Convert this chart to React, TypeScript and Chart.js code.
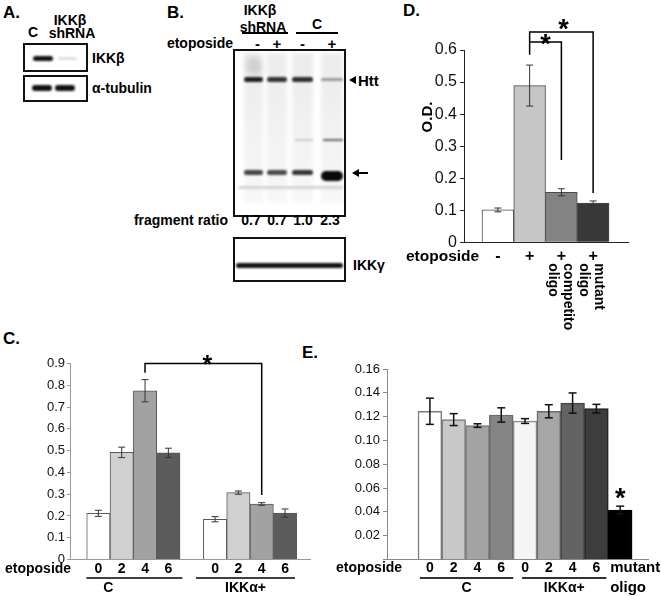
import React, { useEffect, useRef } from 'react';
import { Chart, registerables } from 'chart.js';
Chart.register(...registerables);

const FONT = "'Liberation Sans', Arial, Helvetica, sans-serif";

// ---------- Panel D (ELISA O.D.) ----------
const D_TREATMENT = ['-', '+', '+', '+'];
const D_NOTES: string[][] = [[], [], ['competitor', 'oligo'], ['mutant', 'oligo']];
const D_VALUES = [0.101, 0.489, 0.156, 0.122];
const D_ERRORS = [0.006, 0.064, 0.011, 0.007];
const D_COLORS = ['#ffffff', '#c6c6c6', '#838383', '#383838'];
const D_Y_MAX = 0.6;
const D_Y_STEP = 0.1;

// ---------- Panel C ----------
const C_GROUPS = ['C', 'IKKα+'];
const C_TIMES = ['0', '2', '4', '6'];
const C_CTRL = [0.212, 0.492, 0.775, 0.49];
const C_CTRL_ERR = [0.014, 0.024, 0.051, 0.021];
const C_IKKA = [0.185, 0.307, 0.255, 0.213];
const C_IKKA_ERR = [0.012, 0.0075, 0.006, 0.019];
const C_COLORS = ['#ffffff', '#d0d0d0', '#a2a2a2', '#5c5c5c'];
const C_Y_MAX = 0.9;
const C_Y_STEP = 0.1;

// ---------- Panel E ----------
const E_GROUPS = ['C', 'IKKα+'];
const E_TIMES = ['0', '2', '4', '6'];
const E_CTRL = [0.1245, 0.1175, 0.1125, 0.1214];
const E_CTRL_ERR = [0.011, 0.005, 0.0015, 0.006];
const E_IKKA = [0.1163, 0.1245, 0.1314, 0.1267];
const E_IKKA_ERR = [0.002, 0.0055, 0.0085, 0.0036];
const E_MUTANT_LABEL = ['mutant', 'oligo'];
const E_MUTANT = 0.0415;
const E_MUTANT_ERR = 0.0033;
const E_COLORS = ['#ffffff', '#c8c8c8', '#a3a3a3', '#858585', '#f5f5f5', '#a6a6a6', '#636363', '#3d3d3d', '#000000'];
const E_Y_MAX = 0.16;
const E_Y_STEP = 0.02;

// ---------- Panel B ----------
const B_SIGNS = ['-', '+', '-', '+'];
const B_RATIOS = ['0.7', '0.7', '1.0', '2.3'];

type Opt = { size?: number; bold?: boolean; align?: CanvasTextAlign; rot?: number; color?: string };
function drawText(ctx: CanvasRenderingContext2D, s: string, x: number, y: number, o: Opt = {}) {
  ctx.save();
  ctx.font = `${o.bold === false ? '' : 'bold '}${o.size ?? 14}px ${FONT}`;
  ctx.fillStyle = o.color ?? '#000';
  ctx.textAlign = o.align ?? 'center';
  ctx.textBaseline = 'middle';
  ctx.translate(x, y);
  if (o.rot) ctx.rotate(o.rot);
  ctx.fillText(s, 0, 0);
  ctx.restore();
}
function drawStar(ctx: CanvasRenderingContext2D, cx: number, cy: number, size: number) {
  ctx.save();
  ctx.font = `bold ${size}px ${FONT}`;
  ctx.fillStyle = '#000';
  ctx.textAlign = 'center';
  ctx.textBaseline = 'alphabetic';
  ctx.fillText('*', cx, cy + size * 0.57);
  ctx.restore();
}
function line(ctx: CanvasRenderingContext2D, pts: number[][], w: number, color = '#000') {
  ctx.save();
  ctx.strokeStyle = color;
  ctx.lineWidth = w;
  ctx.beginPath();
  pts.forEach((p, i) => (i ? ctx.lineTo(p[0], p[1]) : ctx.moveTo(p[0], p[1])));
  ctx.stroke();
  ctx.restore();
}

type Spec = {
  box: { left: number; top: number; width: number; height: number };
  area: { left: number; right: number; top: number; bottom: number };
  xMin: number; xMax: number;
  xs: number[]; ys: number[]; errs: number[]; colors: string[];
  borderColor: string | string[]; borderWidth: number;
  yMax: number; yStep: number; fmt: (v: number) => string;
  tickSize: number; tickLen: number; tickPad: number; axisColor: string;
  errColor: string; errWidth: number; cap: number;
  draw: (ctx: CanvasRenderingContext2D, c: any, bars: any[], y: any) => void;
};

function BarPanel({ spec }: { spec: Spec }) {
  const ref = useRef<HTMLCanvasElement>(null);
  useEffect(() => {
    const s = spec;
    const yW = 50;
    const chart = new Chart(ref.current!, {
      type: 'bar',
      data: {
        datasets: [{
          data: s.xs.map((x, i) => ({ x, y: s.ys[i] })),
          backgroundColor: s.colors,
          borderColor: s.borderColor as any,
          borderWidth: s.borderWidth,
          categoryPercentage: 1,
          barPercentage: 1,
        } as any],
      },
      options: {
        animation: false,
        responsive: false,
        maintainAspectRatio: false,
        devicePixelRatio: 1,
        layout: {
          autoPadding: false,
          padding: {
            left: s.area.left - s.box.left - yW,
            right: s.box.left + s.box.width - s.area.right,
            top: s.area.top - s.box.top,
            bottom: s.box.top + s.box.height - s.area.bottom,
          },
        },
        plugins: { legend: { display: false }, tooltip: { enabled: false }, title: { display: false } },
        scales: {
          x: {
            type: 'linear', min: s.xMin, max: s.xMax, offset: false,
            grid: { display: false, drawTicks: false },
            ticks: { display: false },
            border: { display: true, color: s.axisColor, width: 1 },
            afterBuildTicks: (sc: any) => { sc.ticks = s.xs.map((v) => ({ value: v })); },
            afterFit: (sc: any) => { sc.height = 0; },
          },
          y: {
            min: 0, max: s.yMax,
            ticks: {
              stepSize: s.yStep,
              callback: (v: any) => s.fmt(Number(v)),
              color: '#111',
              font: { family: FONT, size: s.tickSize },
              padding: s.tickPad,
            },
            grid: { drawOnChartArea: false, drawTicks: true, tickLength: s.tickLen, color: s.axisColor },
            border: { display: true, color: s.axisColor, width: 1 },
            afterFit: (sc: any) => { sc.width = yW; },
          },
        } as any,
      },
      plugins: [{
        id: 'extras',
        afterDraw: (c: any) => {
          const ctx = c.ctx as CanvasRenderingContext2D;
          const meta = c.getDatasetMeta(0);
          const ys = c.scales.y;
          meta.data.forEach((el: any, i: number) => {
            const e = s.errs[i];
            const v = s.ys[i];
            const t = ys.getPixelForValue(v + e);
            const b = ys.getPixelForValue(v - e);
            line(ctx, [[el.x, t], [el.x, b]], s.errWidth, s.errColor);
            line(ctx, [[el.x - s.cap, t], [el.x + s.cap, t]], s.errWidth, s.errColor);
            line(ctx, [[el.x - s.cap, b], [el.x + s.cap, b]], s.errWidth, s.errColor);
          });
          s.draw(ctx, c, meta.data, ys);
        },
      }],
    } as any);
    return () => chart.destroy();
  }, []);
  const b = spec.box;
  return (
    <canvas
      ref={ref}
      width={b.width}
      height={b.height}
      style={{ position: 'absolute', left: b.left, top: b.top, width: b.width, height: b.height }}
    />
  );
}

// ---------- specs ----------
const specD: Spec = {
  box: { left: 400, top: 0, width: 261, height: 330 },
  area: { left: 464, right: 628, top: 50, bottom: 242.3 },
  xMin: -0.067, xMax: 5.098,
  xs: D_VALUES.map((_, i) => i + 1),
  ys: D_VALUES, errs: D_ERRORS, colors: D_COLORS,
  borderColor: '#4a4a4a', borderWidth: 1,
  yMax: D_Y_MAX, yStep: D_Y_STEP,
  fmt: (v) => (v === 0 ? '0' : v.toFixed(1)),
  tickSize: 16, tickLen: 4, tickPad: 3, axisColor: '#222',
  errColor: '#333', errWidth: 1, cap: 3.5,
  draw: (ctx, c, bars, y) => {
    const a = c.chartArea;
    const rowY = a.bottom + 14;
    drawText(ctx, 'etoposide', a.left - 58, rowY, { size: 15.5, align: 'left' });
    bars.forEach((b: any, i: number) => {
      drawText(ctx, D_TREATMENT[i], b.x, rowY, { size: 16 });
      D_NOTES[i].forEach((n, j) =>
        drawText(ctx, n, b.x + 6 - j * 15, a.bottom + 21, { size: 14, align: 'left', rot: Math.PI / 2 }));
    });
    drawText(ctx, 'O.D.', a.left - 36, a.top + 67, { size: 15, rot: -Math.PI / 2 });
    const x1 = bars[1].x, x2 = bars[2].x, x3 = bars[3].x;
    line(ctx, [[x1, y.getPixelForValue(0.585)], [x1, y.getPixelForValue(0.656)], [x3, y.getPixelForValue(0.656)], [x3, y.getPixelForValue(0.154)]], 1.5);
    line(ctx, [[x1, y.getPixelForValue(0.625)], [x2, y.getPixelForValue(0.625)], [x2, y.getPixelForValue(0.257)]], 1.5);
    drawStar(ctx, (x1 + x3) / 2 + 2, y.getPixelForValue(0.656) - 9, 27);
    drawStar(ctx, (x1 + x2) / 2, y.getPixelForValue(0.625) - 4, 27);
  },
};

const C_ALL = [...C_CTRL, ...C_IKKA];
const specC: Spec = {
  box: { left: 0, top: 330, width: 330, height: 266 },
  area: { left: 70, right: 310, top: 363.5, bottom: 559.5 },
  xMin: -0.216, xMax: 10.07,
  xs: C_ALL.map((_, i) => Math.floor(i / C_TIMES.length) * (C_TIMES.length + 1) + (i % C_TIMES.length) + 1),
  ys: C_ALL, errs: [...C_CTRL_ERR, ...C_IKKA_ERR],
  colors: [...C_COLORS, ...C_COLORS],
  borderColor: '#5a5a5a', borderWidth: 1,
  yMax: C_Y_MAX, yStep: C_Y_STEP,
  fmt: (v) => (v === 0 ? '0' : v.toFixed(1)),
  tickSize: 13, tickLen: 3, tickPad: 2, axisColor: '#999',
  errColor: '#333', errWidth: 1, cap: 3.5,
  draw: (ctx, c, bars, y) => {
    const a = c.chartArea;
    const rowY = a.bottom + 9.5;
    drawText(ctx, 'etoposide', a.left - 65, rowY, { size: 14, align: 'left' });
    bars.forEach((b: any, i: number) => drawText(ctx, C_TIMES[i % C_TIMES.length], b.x, rowY, { size: 14 }));
    C_GROUPS.forEach((g, gi) => {
      const first = bars[gi * C_TIMES.length];
      const last = bars[gi * C_TIMES.length + C_TIMES.length - 1];
      const l = first.x - (gi ? 19 : 12);
      const r = last.x + (gi ? 10 : 14);
      line(ctx, [[l, a.bottom + 18.5], [r, a.bottom + 18.5]], 1.5);
      drawText(ctx, g, gi ? (l + r) / 2 : l + 22, a.bottom + 28.5, { size: 14 });
    });
    const xa = bars[2].x, xb = bars[6].x;
    const top = y.getPixelForValue(0.9);
    line(ctx, [[xa, y.getPixelForValue(0.857)], [xa, top], [xb, top], [xb, y.getPixelForValue(0.296)]], 1.5);
    drawStar(ctx, (xa + xb) / 2 + 4, top - 5, 25);
  },
};

const E_ALL = [...E_CTRL, ...E_IKKA, E_MUTANT];
const specE: Spec = {
  box: { left: 330, top: 340, width: 331, height: 256 },
  area: { left: 387, right: 648, top: 369, bottom: 559.5 },
  xMin: -0.804, xMax: 10.17,
  xs: E_ALL.map((_, i) => i + 1),
  ys: E_ALL, errs: [...E_CTRL_ERR, ...E_IKKA_ERR, E_MUTANT_ERR],
  colors: E_COLORS,
  borderColor: ['#7a7a7a', '#7a7a7a', '#7a7a7a', '#6a6a6a', '#8a8a8a', '#6a6a6a', '#444', '#222', '#000'],
  borderWidth: 1.5,
  yMax: E_Y_MAX, yStep: E_Y_STEP,
  fmt: (v) => (v === 0 ? '' : v.toFixed(2)),
  tickSize: 13, tickLen: 4, tickPad: 3, axisColor: '#888',
  errColor: '#111', errWidth: 1.5, cap: 4,
  draw: (ctx, c, bars) => {
    const a = c.chartArea;
    const rowY = a.bottom + 8.5;
    drawText(ctx, 'etoposide', a.left - 51, rowY, { size: 14, align: 'left' });
    const n = E_TIMES.length;
    bars.forEach((b: any, i: number) => {
      if (i < n * E_GROUPS.length) drawText(ctx, E_TIMES[i % n], b.x, rowY, { size: 14 });
    });
    E_GROUPS.forEach((g, gi) => {
      const l = bars[gi * n].x - (gi ? 3 : 10);
      const r = bars[gi * n + n - 1].x + (gi ? 10 : 12);
      line(ctx, [[l, a.bottom + 18.5], [r, a.bottom + 18.5]], 2, '#333');
      drawText(ctx, g, (l + r) / 2, a.bottom + 28.5, { size: 14 });
    });
    const m = bars[bars.length - 1];
    E_MUTANT_LABEL.forEach((t, j) => drawText(ctx, t, m.x - 10, rowY + j * 20, { size: 15, align: 'left' }));
    drawStar(ctx, m.x, 492 - 340, 27);
  },
};

// ---------- HTML helpers for blot panels ----------
function T({ x, y, children, size = 14, bold = true, align = 'center' }:
  { x: number; y: number; children: React.ReactNode; size?: number; bold?: boolean; align?: 'left' | 'center' | 'right' }) {
  const tx = align === 'center' ? '-50%' : align === 'right' ? '-100%' : '0';
  return (
    <div style={{
      position: 'absolute', left: x, top: y, transform: `translate(${tx}, -50%)`, whiteSpace: 'nowrap',
      fontFamily: FONT, fontSize: size, fontWeight: bold ? 700 : 400, lineHeight: 1, color: '#000',
    }}>{children}</div>
  );
}
function Box({ x, y, w, h }: { x: number; y: number; w: number; h: number }) {
  return <div style={{ position: 'absolute', left: x, top: y, width: w, height: h, border: '2px solid #111', boxSizing: 'border-box' }} />;
}
function Band({ x1, x2, y, h, color, blur = 0.8 }: { x1: number; x2: number; y: number; h: number; color: string; blur?: number }) {
  return <div style={{
    position: 'absolute', left: x1, top: y - h / 2, width: x2 - x1, height: h, background: color,
    borderRadius: h / 2, filter: `blur(${blur}px)`,
  }} />;
}
function HLine({ x1, x2, y, w = 1.5 }: { x1: number; x2: number; y: number; w?: number }) {
  return <div style={{ position: 'absolute', left: x1, top: y - w / 2, width: x2 - x1, height: w, background: '#000' }} />;
}

const LANES = [[244, 263], [267, 287], [292, 313], [321, 343]];
const HTT_SHADES = ['#1e1e1e', '#333', '#2e2e2e', '#9a9a9a'];
const FRAG_SHADES = ['#444', '#4a4a4a', '#333', '#0a0a0a'];

export default function App() {
  return (
    <div style={{ position: 'fixed', left: 0, top: 0, width: 661, height: 596, background: '#fff', overflow: 'hidden' }}>
      {/* Panel A */}
      <T x={3} y={12} size={17} align="left">A.</T>
      <T x={33} y={32}>C</T>
      <T x={70} y={20}>IKKβ</T>
      <T x={72} y={33}>shRNA</T>
      <Box x={23} y={43} w={65} h={29} />
      <Box x={23} y={75} w={65} h={27} />
      <Band x1={33} x2={53} y={58} h={5} color="#111" />
      <Band x1={58} x2={77} y={58} h={3} color="#ddd" />
      <Band x1={32} x2={52} y={88} h={6} color="#111" />
      <Band x1={55} x2={75} y={88} h={6} color="#111" />
      <T x={92} y={58} align="left">IKKβ</T>
      <T x={92} y={88} align="left">α-tubulin</T>

      {/* Panel B */}
      <T x={167} y={12} size={17} align="left">B.</T>
      <T x={260} y={10}>IKKβ</T>
      <T x={263} y={27}>shRNA</T>
      <HLine x1={242} x2={288} y={33} />
      <T x={317} y={24}>C</T>
      <HLine x1={296} x2={338} y={33} />
      <T x={233} y={43} align="right">etoposide</T>
      {B_SIGNS.map((s, i) => <T key={'s' + i} x={(LANES[i][0] + LANES[i][1]) / 2 + (i === 0 ? 4 : 0)} y={43} size={15}>{s}</T>)}
      <div style={{ position: 'absolute', left: 233, top: 49, width: 113, height: 168, overflow: 'hidden' }}>
        {LANES.map((l, i) => (
          <div key={'h' + i} style={{
            position: 'absolute', left: l[0] - 233, top: 4, width: l[1] - l[0], height: 150,
            background: 'linear-gradient(rgba(0,0,0,0.08), rgba(0,0,0,0.03))', filter: 'blur(2px)',
          }} />
        ))}
      </div>
      <Band x1={246} x2={262} y={66} h={18} color="rgba(0,0,0,0.12)" blur={3} />
      {LANES.map((l, i) => <Band key={'t' + i} x1={l[0]} x2={l[1]} y={79} h={i === 3 ? 3 : 5} color={HTT_SHADES[i]} blur={1} />)}
      <Band x1={295} x2={313} y={140} h={2} color="#ccc" />
      <Band x1={323} x2={343} y={140} h={2} color="#666" />
      {LANES.map((l, i) => <Band key={'f' + i} x1={l[0]} x2={l[1]} y={i === 3 ? 176 : 172} h={i === 3 ? 10 : 5} color={FRAG_SHADES[i]} blur={i === 3 ? 1.2 : 1} />)}
      <Band x1={238} x2={343} y={187} h={3} color="#d4d4d4" />
      <Box x={233} y={49} w={113} h={168} />
      <div style={{
        position: 'absolute', left: 349, top: 76, width: 0, height: 0,
        borderTop: '4px solid transparent', borderBottom: '4px solid transparent', borderRight: '7px solid #000',
      }} />
      <T x={358} y={80} size={15} align="left">Htt</T>
      <HLine x1={354} x2={368} y={173} />
      <div style={{
        position: 'absolute', left: 352, top: 169, width: 0, height: 0,
        borderTop: '4px solid transparent', borderBottom: '4px solid transparent', borderRight: '7px solid #000',
      }} />
      <T x={228} y={220} align="right">fragment ratio</T>
      {B_RATIOS.map((r, i) => <T key={'r' + i} x={[251, 277, 303, 330][i]} y={220}>{r}</T>)}
      <Band x1={236} x2={343} y={265} h={5} color="#111" />
      <Box x={233} y={237} w={113} h={45} />
      <T x={353} y={265} align="left">IKKγ</T>

      {/* Panel letters */}
      <T x={403} y={10} size={17} align="left">D.</T>
      <T x={3} y={338} size={17} align="left">C.</T>
      <T x={302} y={352} size={17} align="left">E.</T>

      <BarPanel spec={specD} />
      <BarPanel spec={specC} />
      <BarPanel spec={specE} />
    </div>
  );
}
